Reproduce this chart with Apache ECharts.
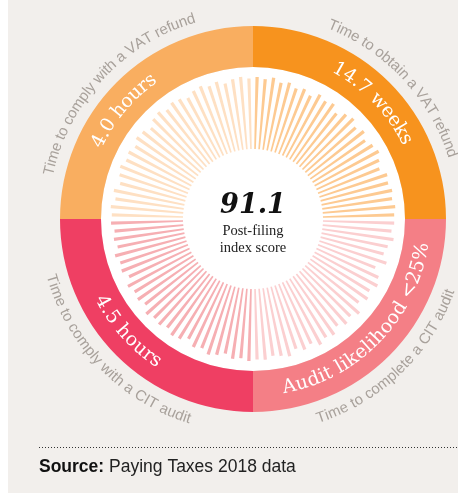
<!DOCTYPE html>
<html>
<head>
<meta charset="utf-8">
<script src="https://cdn.jsdelivr.net/npm/echarts@6/dist/echarts.min.js"></script>
<style>
html, body { margin: 0; padding: 0; background: #fff; }
#chart { width: 458px; height: 493px; background: linear-gradient(to right, #fff 8px, #F2EFEC 8px); }
</style>
</head>
<body>
<div id="chart"></div>
<script>
// quadrants clockwise from 12 o'clock
const quadrantNames = ['Time to obtain a VAT refund', 'Time to complete a CIT audit', 'Time to comply with a CIT audit', 'Time to comply with a VAT refund'];
const quadrantValues = ['14.7 weeks', 'Audit likelihood <25%', '4.5 hours', '4.0 hours'];
const ringColors = ['#F7931E', '#F47F86', '#EF3F63', '#F9AE60'];
const barColors = ['#FDCA92', '#FBCFD0', '#F6AFB3', '#FEE0C3'];

// radial bars per quadrant (clockwise)
const vatObtainBars = [96, 94, 97, 92, 95, 90, 93, 88, 95, 91, 94, 86, 93, 96, 90, 95, 89, 94, 97, 92, 88, 95, 93, 96, 94, 97, 95];
const citCompleteBars = [95, 92, 96, 90, 87, 94, 82, 91, 95, 89, 93, 86, 96, 90, 94, 88, 95, 92, 97, 90, 94, 89, 96, 93, 91, 95, 94];
const citComplyBars = [96, 93, 95, 90, 94, 97, 92, 95, 88, 94, 96, 91, 95, 93, 97, 90, 94, 92, 96, 89, 95, 93, 97, 91, 94, 92, 96];
const vatComplyBars = [95, 97, 92, 96, 90, 94, 97, 93, 95, 91, 96, 94, 89, 95, 97, 92, 96, 94, 90, 95, 97, 93, 96, 91, 95, 97, 94];

const score = '91.1';
const scoreLabel = ['Post-filing', 'index score'];
const sourceText = 'Paying Taxes 2018 data';

const cx = 253, cy = 219;

const quadrants = [vatObtainBars, citCompleteBars, citComplyBars, vatComplyBars];
const barData = [];
quadrants.forEach(function (arr, q) {
    arr.forEach(function (v) {
        barData.push({ value: v, itemStyle: { color: barColors[q] } });
    });
});
const cats = barData.map(function (d, i) { return i; });

// curved text, one element per character
const measure = document.createElement('canvas').getContext('2d');
function arcText(str, r, mid, font, color, bottom) {
    measure.font = font;
    const chars = Array.from(str);
    const widths = chars.map(function (ch) { return measure.measureText(ch).width; });
    const total = widths.reduce(function (a, b) { return a + b; }, 0);
    let acc = 0;
    return chars.map(function (ch, i) {
        const off = (acc + widths[i] / 2 - total / 2) / r;
        acc += widths[i];
        const t = mid * Math.PI / 180 + (bottom ? -off : off);
        return {
            type: 'text',
            x: cx + r * Math.sin(t),
            y: cy - r * Math.cos(t),
            rotation: bottom ? Math.PI - t : -t,
            z: 100,
            silent: true,
            style: {
                text: ch, font: font, fill: color,
                align: 'center', verticalAlign: 'middle',
                textAlign: 'center', textVerticalAlign: 'middle'
            }
        };
    });
}

const grey = '#A8A19B';
const labelFont = '15px "Liberation Sans", Arial, sans-serif';
const ringFont = '19px "DejaVu Serif", serif';
let texts = [];
texts = texts.concat(arcText(quadrantNames[0], 209, 47, labelFont, grey, false));
texts = texts.concat(arcText(quadrantNames[1], 210, 136, labelFont, grey, true));
texts = texts.concat(arcText(quadrantNames[2], 210, 226, labelFont, grey, true));
texts = texts.concat(arcText(quadrantNames[3], 209, 313, labelFont, grey, false));
texts = texts.concat(arcText(quadrantValues[0], 172, 46, ringFont, '#fff', false));
texts = texts.concat(arcText(quadrantValues[1], 172, 134, ringFont, '#fff', true));
texts = texts.concat(arcText(quadrantValues[2], 172, 228, ringFont, '#fff', true));
texts = texts.concat(arcText(quadrantValues[3], 172, 310, ringFont, '#fff', false));

texts.push({
    type: 'text', x: cx, y: 206, z: 100, silent: true,
    style: { text: score, font: 'italic bold 27px "DejaVu Serif", serif', fill: '#111',
        align: 'center', verticalAlign: 'middle', textAlign: 'center', textVerticalAlign: 'middle' }
});
scoreLabel.forEach(function (s, i) {
    texts.push({
        type: 'text', x: cx, y: 231 + i * 17, z: 100, silent: true,
        style: { text: s, font: '14.5px "Liberation Serif", serif', fill: '#222',
            align: 'center', verticalAlign: 'middle', textAlign: 'center', textVerticalAlign: 'middle' }
    });
});
texts.push({
    type: 'line', z: 100, silent: true,
    shape: { x1: 39, y1: 447.5, x2: 458, y2: 447.5 },
    style: { stroke: '#333', lineWidth: 1, lineDash: [1, 2] }
});
texts.push({
    type: 'text', x: 39, y: 467, z: 100, silent: true,
    style: {
        text: '{b|Source:} ' + sourceText,
        font: '17.5px "Liberation Sans", Arial, sans-serif', fill: '#222',
        align: 'left', verticalAlign: 'middle', textAlign: 'left', textVerticalAlign: 'middle',
        rich: { b: { fontWeight: 'bold', fontSize: 17.5, fontFamily: '"Liberation Sans", Arial, sans-serif', fill: '#111', color: '#111' } }
    }
});

const option = {
    animation: false,
    polar: { center: [cx, cy], radius: [70, 145] },
    angleAxis: {
        type: 'category', data: cats, startAngle: 90, clockwise: true, boundaryGap: true,
        axisLine: { show: false }, axisTick: { show: false }, axisLabel: { show: false }, splitLine: { show: false }
    },
    radiusAxis: {
        type: 'value', min: 0, max: 100,
        axisLine: { show: false }, axisTick: { show: false }, axisLabel: { show: false }, splitLine: { show: false }
    },
    series: [
        {
            type: 'pie', center: [cx, cy], radius: [0, 152], silent: true, z: 1,
            label: { show: false }, labelLine: { show: false },
            data: [{ value: 1, itemStyle: { color: '#fff' } }]
        },
        {
            type: 'pie', center: [cx, cy], radius: [152, 193], startAngle: 90, silent: true, z: 2,
            label: { show: false }, labelLine: { show: false },
            data: ringColors.map(function (c, i) { return { value: 1, name: quadrantNames[i], itemStyle: { color: c } }; })
        },
        {
            type: 'bar', coordinateSystem: 'polar', barWidth: '40%', silent: true, z: 3,
            data: barData
        }
    ],
    graphic: texts
};

const chart = echarts.init(document.getElementById('chart'));
chart.setOption(option);
window.addEventListener('resize', function () {
    chart.resize();
});
</script>
</body>
</html>
